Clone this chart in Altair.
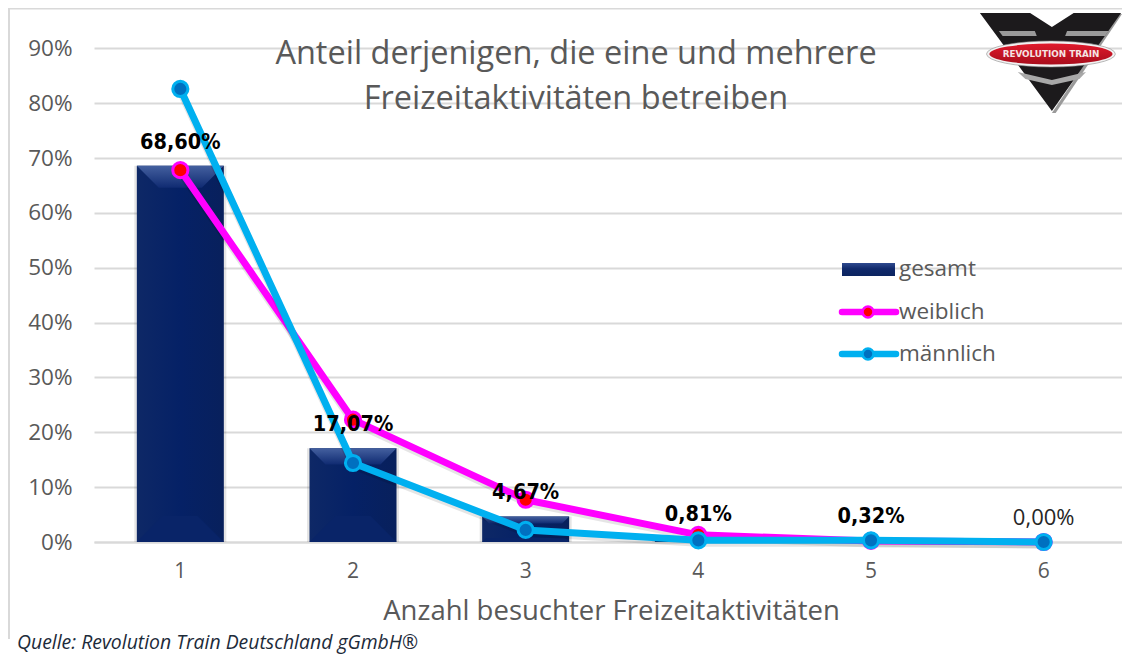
import urllib.parse
import altair as alt
import pandas as pd

categories = ["1", "2", "3", "4", "5", "6"]
gesamt = [68.60, 17.07, 4.67, 0.81, 0.32, 0.00]
gesamt_labels = ["68,60%", "17,07%", "4,67%", "0,81%", "0,32%", "0,00%"]
weiblich = [67.8, 22.3, 7.7, 1.3, 0.2, 0.0]
maennlich = [82.6, 14.4, 2.2, 0.3, 0.3, 0.0]
y_ticks = [0, 10, 20, 30, 40, 50, 60, 70, 80, 90]
title_lines = ["Anteil derjenigen, die eine und mehrere", "Freizeitaktivitäten betreiben"]
x_title = "Anzahl besuchter Freizeitaktivitäten"
source_text = "Quelle: Revolution Train Deutschland gGmbH®"
legend_names = ["gesamt", "weiblich", "männlich"]
logo_text = "REVOLUTION TRAIN"

GREY = "#595959"
GRID = "#d9d9d9"
PINK, RED = "#ff00ff", "#ff0000"
CYAN, BLUE = "#00b0f0", "#0070c0"
BODY = "Open Sans"
HALF = 43.5   # half bar width in px


def bevel(depth, sign):
    d = depth / HALF
    return f"M-1,0 L1,0 L{1 - d:.3f},{sign * d:.3f} L{-1 + d:.3f},{sign * d:.3f} Z"


top_depth = [22, 16, 7]
bottom_depth = [26, 26, 4]

df = pd.DataFrame({"cat": categories, "gesamt": gesamt, "label": gesamt_labels,
                   "weiblich": weiblich, "maennlich": maennlich})
bev = df.iloc[:3].copy()
bev["top"] = [bevel(d, 1) for d in top_depth]
bev["bottom"] = [bevel(d, -1) for d in bottom_depth]
bev["zero"] = 0

x = alt.X("cat:N", sort=categories,
          scale=alt.Scale(domain=categories, range=[0, 1036], paddingInner=0.5, paddingOuter=0.25),
          axis=alt.Axis(title=x_title, labelAngle=0, labelFont=BODY, labelFontSize=21, labelColor=GREY,
                        labelPadding=18, ticks=False, domainColor=GRID, domainWidth=2,
                        titleFont=BODY, titleFontSize=27.5, titleFontWeight="normal", titleColor=GREY,
                        titleX=517, titleY=77, titleAnchor="middle", titleBaseline="alphabetic"))
y_scale = alt.Scale(domain=[0, 96.63], range=[530, 0], nice=False)
y = alt.Y("gesamt:Q", scale=y_scale, title=None,
          axis=alt.Axis(values=y_ticks, labelExpr="datum.value + '%'", labelFont=BODY, labelFontSize=22.5,
                        labelColor=GREY, labelPadding=22, ticks=False, domain=False,
                        gridColor=GRID, gridWidth=2))

base = alt.Chart(df)
bar_fill = alt.Gradient(gradient="linear", x1=0, x2=1, y1=0, y2=0,
                        stops=[alt.GradientStop(offset=0, color="#0e2866"),
                               alt.GradientStop(offset=0.5, color="#052166"),
                               alt.GradientStop(offset=1, color="#08205c")])
bar_shadow = base.mark_bar(size=92, color="#000000", opacity=0.10).encode(x=x, y=y)
bars = base.mark_bar(size=87, color=bar_fill).encode(x=x, y=y)

top_fill = alt.Gradient(gradient="linear", x1=0, x2=0, y1=0, y2=1,
                        stops=[alt.GradientStop(offset=0, color="#44609f"),
                               alt.GradientStop(offset=1, color="#102b72")])
bevel_top = alt.Chart(bev).mark_point(filled=True, color=top_fill, opacity=1, size=HALF * HALF * 4).encode(
    x=x, y=alt.Y("gesamt:Q", scale=y_scale), shape=alt.Shape("top:N", scale=None, legend=None))
bevel_bottom = alt.Chart(bev).mark_point(filled=True, color="#092468", opacity=1, size=HALF * HALF * 4).encode(
    x=x, y=alt.Y("zero:Q", scale=y_scale), shape=alt.Shape("bottom:N", scale=None, legend=None))


def series(field, line, dot):
    yy = alt.Y(f"{field}:Q", scale=y_scale)
    return [
        base.mark_line(color="#000000", opacity=0.10, strokeWidth=7, yOffset=3).encode(x=x, y=yy),
        base.mark_line(color=line, strokeWidth=7, strokeCap="round", strokeJoin="round").encode(x=x, y=yy),
        base.mark_point(filled=True, fill=dot, stroke=line, strokeWidth=3, opacity=1, size=230).encode(x=x, y=yy),
    ]


labels_bold = base.transform_filter("datum.cat != '6'").mark_text(
    font="DejaVu Sans Condensed, DejaVu Sans", fontWeight="bold", fontSize=21.5, color="#000000", dy=-17, baseline="alphabetic"
).encode(x=x, y=y, text="label:N")
label_plain = base.transform_filter("datum.cat == '6'").mark_text(
    font=BODY, fontSize=22, color="#262626", dy=-17, baseline="alphabetic"
).encode(x=x, y=y, text="label:N")

# frame
one = alt.Chart(pd.DataFrame({"a": [0]}))
frame_top = one.mark_rule(color=GRID, strokeWidth=2).encode(x=alt.value(-85), x2=alt.value(1036), y=alt.value(-3.5))
frame_left = one.mark_rule(color=GRID, strokeWidth=2).encode(x=alt.value(-85), y=alt.value(-4), y2=alt.value(627))

# legend
swatch_fill = alt.Gradient(gradient="linear", x1=0, x2=0, y1=0, y2=1,
                           stops=[alt.GradientStop(offset=0, color="#2f4a8f"),
                                  alt.GradientStop(offset=0.45, color="#10296b"),
                                  alt.GradientStop(offset=1, color="#0c2460")])
swatch = one.mark_rect(color=swatch_fill).encode(x=alt.value(748), x2=alt.value(801), y=alt.value(251), y2=alt.value(264))
leg_pink = one.mark_rule(color=PINK, strokeWidth=6.5, strokeCap="round").encode(x=alt.value(748), x2=alt.value(802), y=alt.value(300))
leg_pink_dot = one.mark_point(filled=True, fill=RED, stroke=PINK, strokeWidth=2.5, opacity=1, size=120).encode(x=alt.value(774), y=alt.value(300))
leg_cyan = one.mark_rule(color=CYAN, strokeWidth=6.5, strokeCap="round").encode(x=alt.value(748), x2=alt.value(802), y=alt.value(342))
leg_cyan_dot = one.mark_point(filled=True, fill=BLUE, stroke=CYAN, strokeWidth=2.5, opacity=1, size=120).encode(x=alt.value(774), y=alt.value(342))
leg_text = [
    alt.Chart(pd.DataFrame({"t": [name]})).mark_text(font=BODY, fontSize=22.5, color=GREY, align="left", baseline="middle").encode(
        x=alt.value(805), y=alt.value(ypos), text="t:N")
    for name, ypos in zip(legend_names, [257, 300, 342])
]

# logo
logo_svg = """<svg xmlns='http://www.w3.org/2000/svg' viewBox='978 8 152 108' width='144' height='108' preserveAspectRatio='none'>
<defs><linearGradient id='r' x1='0' x2='0' y1='0' y2='1'><stop offset='0' stop-color='#e01a2c'/><stop offset='1' stop-color='#a80d1c'/></linearGradient></defs>
<polygon points='1056,113 1060,113 1130,14 1126,14' fill='#9a9a9a'/>
<polygon points='980,13 1033,13 1056,27 1079,13 1129,13 1056,111' fill='#1c1a1c'/>
<polygon points='1000,31 1038,31 1040,36 1004,36' fill='#9a9a9a'/>
<polygon points='1072,31 1116,31 1112,36 1070,36' fill='#9a9a9a'/>
<polygon points='1020,72 1056,80 1092,72 1085,79 1056,85 1028,79' fill='#a8a8a8'/>
<ellipse cx='1055' cy='54' rx='68' ry='13' fill='#f2f2f2' stroke='#8a8a8a' stroke-width='0.6'/>
<ellipse cx='1055' cy='54' rx='65' ry='10.5' fill='url(#r)'/>
</svg>"""
logo_uri = "data:image/svg+xml," + urllib.parse.quote(logo_svg)
logo = alt.Chart(pd.DataFrame({"u": [logo_uri]})).mark_image(width=144, height=108, align="left", baseline="top").encode(
    x=alt.value(884), y=alt.value(-4), url="u:N")
logo_label = alt.Chart(pd.DataFrame({"t": [logo_text]})).mark_text(
    font="DejaVu Sans", fontWeight="bold", fontSize=8.8, color="#f4e4e4", align="center", baseline="middle"
).encode(x=alt.value(957), y=alt.value(42), text="t:N")

source = alt.Chart(pd.DataFrame({"t": [source_text]})).mark_text(
    font=BODY, fontStyle="italic", fontSize=19.4, color="#1d2b3a", align="left", baseline="alphabetic"
).encode(x=alt.value(-77), y=alt.value(637), text="t:N")

layers = [frame_top, frame_left, logo, logo_label, bar_shadow, bars, bevel_top, bevel_bottom]
layers += series("weiblich", PINK, RED)
layers += series("maennlich", CYAN, BLUE)
layers += [labels_bold, label_plain, swatch, leg_pink, leg_pink_dot, leg_cyan, leg_cyan_dot] + leg_text + [source]

chart = alt.layer(*layers).properties(
    width=1028, height=530,
    autosize=alt.AutoSizeParams(type="none"),
    padding={"left": 86, "top": 4, "right": 0, "bottom": 112},
    title=alt.TitleParams(text=title_lines, anchor="middle", dx=-32, dy=78, offset=-30, font=BODY, fontSize=32.5,
                          fontWeight="normal", color=GREY, lineHeight=45),
).configure_view(stroke=None)

chart.save("out.html", embed_options={"renderer": "svg", "actions": False})
